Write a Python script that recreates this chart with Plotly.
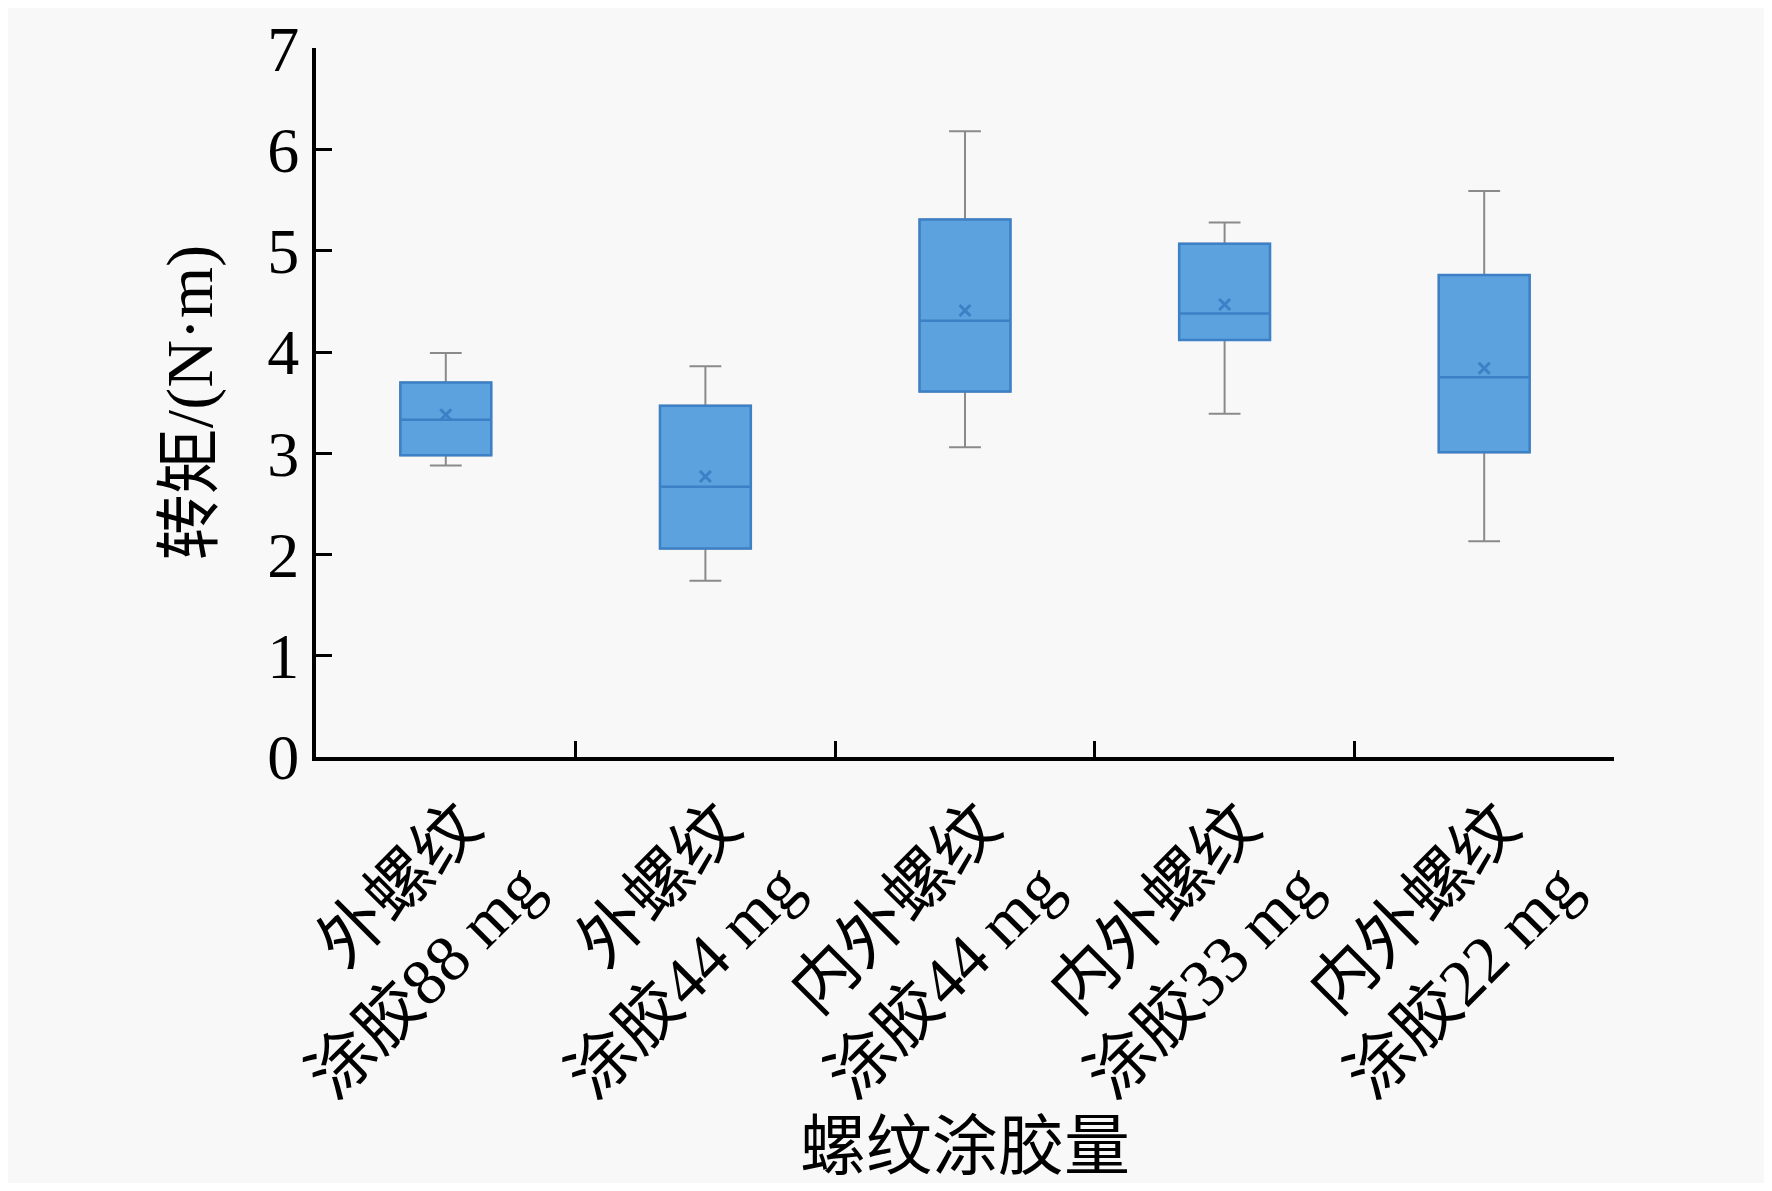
import plotly.graph_objects as go

# categories (螺纹涂胶量) and box statistics of 转矩 (N·m)
categories = ["外螺纹<br>涂胶88 mg", "外螺纹<br>涂胶44 mg", "内外螺纹<br>涂胶44 mg",
              "内外螺纹<br>涂胶33 mg", "内外螺纹<br>涂胶22 mg"]
lower_whisker = [2.88, 1.74, 3.06, 3.39, 2.13]
q1 = [2.98, 2.06, 3.61, 4.12, 3.01]
median = [3.33, 2.67, 4.31, 4.38, 3.75]
q3 = [3.70, 3.47, 5.31, 5.07, 4.76]
upper_whisker = [3.99, 3.86, 6.18, 5.28, 5.59]
mean = [3.38, 2.77, 4.41, 4.47, 3.84]
y_ticks = [0, 1, 2, 3, 4, 5, 6, 7]

FILL = "#5BA2DE"
EDGE = "#3D80C5"
WHISK = "#8A8A8A"
FONT = "Liberation Serif, Times New Roman, Noto Sans CJK SC, serif"

fig = go.Figure()

# whiskers in grey
fig.add_trace(go.Box(
    x=categories, q1=q1, median=median, q3=q3,
    lowerfence=lower_whisker, upperfence=upper_whisker,
    fillcolor=FILL, line=dict(color=WHISK, width=2),
    whiskerwidth=0.35, boxpoints=False, showlegend=False, hoverinfo="skip",
))
# box body and median in blue, drawn on top
fig.add_trace(go.Box(
    x=categories, q1=q1, median=median, q3=q3,
    lowerfence=q1, upperfence=q3,
    fillcolor=FILL, line=dict(color=EDGE, width=2.5),
    whiskerwidth=0.35, boxpoints=False, showlegend=False,
))
# mean markers
fig.add_trace(go.Scatter(
    x=categories, y=mean, mode="markers",
    marker=dict(symbol="x-thin", size=11, line=dict(color=EDGE, width=3)),
    showlegend=False,
))

# page body has an 8px margin, so the figure is shrunk and shifted to match
fig.update_layout(
    width=1756, height=1175,
    margin=dict(l=308, r=150, t=40, b=426),
    paper_bgcolor="#F8F8F8", plot_bgcolor="#F8F8F8",
    boxmode="overlay", boxgap=0.5,
    font=dict(family=FONT, size=66, color="black"),
)
fig.update_xaxes(
    automargin=False,
    showline=True, linecolor="black", linewidth=4,
    ticks="inside", tickson="boundaries", ticklen=16, tickwidth=3, tickcolor="black",
    tickangle=-45, tickfont=dict(size=66), ticklabelshift=16,
    showgrid=False, zeroline=False,
)
fig.update_yaxes(
    automargin=False,
    range=[0, 7.003], tickmode="array", tickvals=y_ticks,
    ticklabeloverflow="allow",
    showline=True, linecolor="black", linewidth=4,
    ticks="inside", ticklen=16, tickwidth=3, tickcolor="black",
    tickfont=dict(size=64),
    showgrid=False, zeroline=False,
    title=dict(text="转矩/(N·m)", font=dict(size=66), standoff=34),
)
fig.add_annotation(
    text="螺纹涂胶量", xref="paper", yref="paper", x=0.5, y=-0.55,
    xanchor="center", yanchor="middle", showarrow=False,
    font=dict(size=66),
)

fig.write_html("out.html")
